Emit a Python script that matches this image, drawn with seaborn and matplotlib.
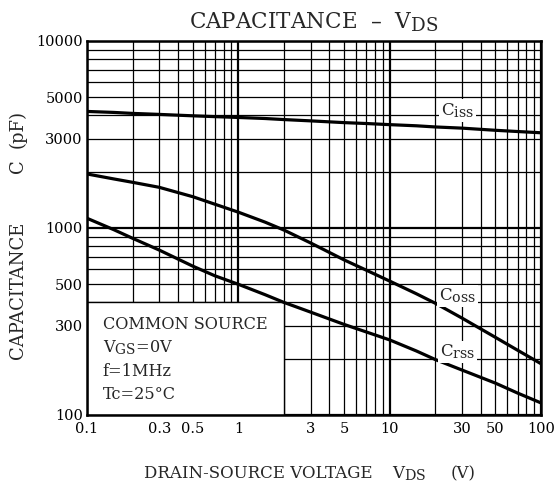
import matplotlib
matplotlib.use("Agg")
import numpy as np
import pandas as pd
import seaborn as sns
from matplotlib import pyplot as plt
from matplotlib.patches import Rectangle
from matplotlib.ticker import FixedLocator, FixedFormatter, LogLocator, NullFormatter
import matplotlib._mathtext as mathtext

# values (V, pF)
vds = [0.1, 0.15, 0.2, 0.3, 0.5, 0.7, 1, 1.5, 2, 3, 5, 7, 10, 15, 20, 30, 50, 70, 100]
ciss = [4200, 4150, 4100, 4050, 3980, 3940, 3900, 3850, 3800, 3740, 3660, 3620, 3570,
        3520, 3470, 3420, 3330, 3280, 3230]
coss = [1945, 1830, 1755, 1650, 1470, 1340, 1215, 1075, 975, 832, 675, 595, 520,
        445, 396, 330, 260, 222, 188]
crss = [1127, 980, 881, 762, 625, 555, 500, 440, 400, 355, 305, 278, 252,
        220, 198, 174, 148, 131, 116]

xticks = [0.1, 0.3, 0.5, 1, 3, 5, 10, 30, 50, 100]
xticklabels = ["0.1", "0.3", "0.5", "1", "3", "5", "10", "30", "50", "100"]
yticks = [100, 300, 500, 1000, 3000, 5000, 10000]
yticklabels = ["100", "300", "500", "1000", "3000", "5000", "10000"]

data = pd.DataFrame({"vds": vds, "Ciss": ciss, "Coss": coss, "Crss": crss})

sns.set_style("white")
plt.rcParams["font.family"] = ["DejaVu Serif"]
plt.rcParams["mathtext.fontset"] = "dejavuserif"
mathtext.SHRINK_FACTOR = 0.85  # subscripts in the datasheet are nearly full size

fig = plt.figure(figsize=(5.55, 4.84), dpi=100)
ax = fig.add_axes([0.1568, 0.1426, 0.818, 0.7727])
ax.set_xscale("log")
ax.set_yscale("log")

for col in ["Ciss", "Coss", "Crss"]:
    sns.lineplot(data=data, x="vds", y=col, ax=ax, color="black", lw=2.3, zorder=3)

ax.set_xlim(0.1, 100)
ax.set_ylim(100, 10000)

# grid: every 1..9 step per decade, decades a bit heavier
ax.xaxis.set_major_locator(FixedLocator(xticks))
ax.xaxis.set_major_formatter(FixedFormatter(xticklabels))
ax.yaxis.set_major_locator(FixedLocator(yticks))
ax.yaxis.set_major_formatter(FixedFormatter(yticklabels))
ax.xaxis.set_minor_locator(LogLocator(base=10, subs=np.arange(1, 10), numticks=20))
ax.yaxis.set_minor_locator(LogLocator(base=10, subs=np.arange(1, 10), numticks=20))
ax.xaxis.set_minor_formatter(NullFormatter())
ax.yaxis.set_minor_formatter(NullFormatter())
ax.xaxis.remove_overlapping_locs = False
ax.yaxis.remove_overlapping_locs = False
ax.set_axisbelow(True)
ax.grid(False, which="major")
ax.grid(True, which="minor", color="black", lw=0.9)
for axis in [ax.xaxis, ax.yaxis]:
    for loc, t in zip(axis.get_minorticklocs(), axis.get_minor_ticks()):
        if abs(np.log10(loc) - round(np.log10(loc))) < 1e-6:
            t.gridline.set_linewidth(1.6)
ax.tick_params(which="both", length=0, labelsize=10.5, colors="black")
ax.tick_params(axis="x", pad=5)
ax.tick_params(axis="y", pad=3)

for s in ax.spines.values():
    s.set_color("black")
    s.set_linewidth(1.8)

ax.set_xlabel("")
ax.set_ylabel("")

# conditions box
ax.add_patch(Rectangle((0.1, 100), 1.9, 300, facecolor="white", edgecolor="black",
                       lw=1.0, zorder=2))
cond = ["COMMON SOURCE", r"V$_{\mathrm{GS}}$=0V", "f=1MHz", "Tc=25°C"]
for i, t in enumerate(cond):
    ax.text(0.0346, 0.241 - i * 0.0617, t, transform=ax.transAxes, fontsize=11.6,
            ha="left", va="center", zorder=4)

lbl = dict(fontsize=12, ha="center", va="center", zorder=4,
           bbox=dict(facecolor="white", edgecolor="none", pad=1.5))
ax.text(28, 4250, r"C$_{\mathrm{iss}}$", **lbl)
ax.text(28, 433, r"C$_{\mathrm{oss}}$", **lbl)
ax.text(28, 217, r"C$_{\mathrm{rss}}$", **lbl)

fig.text(0.566, 0.942, r"CAPACITANCE  –  V$_{\mathrm{DS}}$", fontsize=15.5,
         ha="center", va="baseline")

# axis titles, split in pieces to keep the wide gaps of the original
fig.text(0.259, 0.012, "DRAIN-SOURCE VOLTAGE", fontsize=12, ha="left", va="baseline")
fig.text(0.706, 0.012, r"V$_{\mathrm{DS}}$", fontsize=12, ha="left", va="baseline")
fig.text(0.812, 0.012, "(V)", fontsize=12, ha="left", va="baseline")

fig.text(0.032, 1 - 290 / 484, "CAPACITANCE", fontsize=13, rotation=90,
         ha="center", va="center")
fig.text(0.032, 1 - 166 / 484, "C", fontsize=13, rotation=90, ha="center", va="center")
fig.text(0.032, 1 - 129 / 484, "(pF)", fontsize=13, rotation=90, ha="center", va="center")

fig.savefig("out.png", dpi=100, facecolor="white")
